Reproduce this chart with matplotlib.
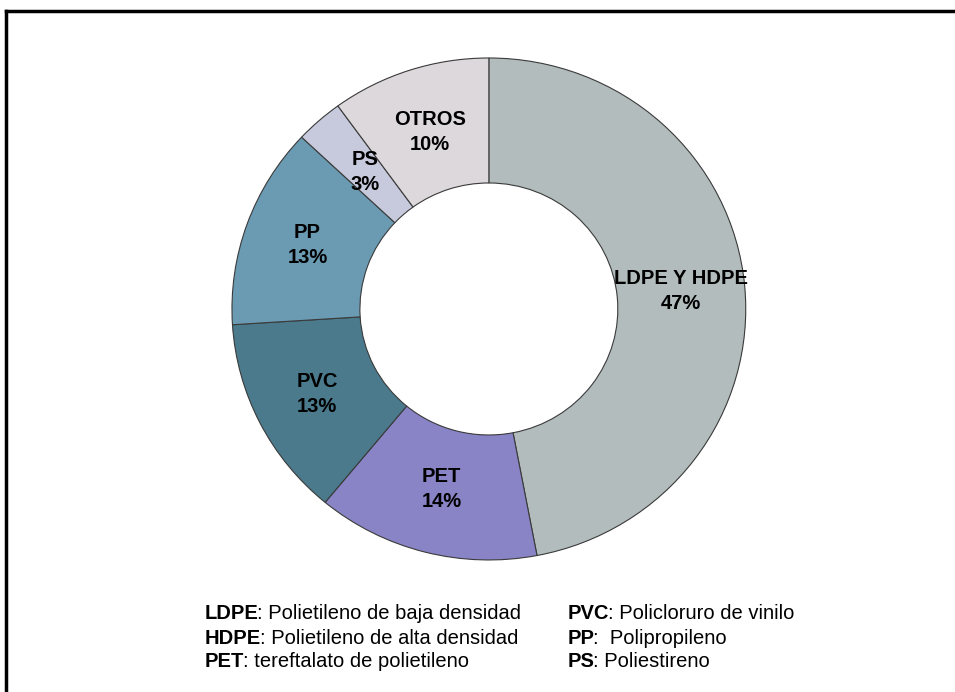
import numpy as np
import matplotlib.pyplot as plt
from matplotlib.lines import Line2D

plt.rcParams['font.family'] = ['Liberation Sans', 'DejaVu Sans']

labels = ['LDPE Y HDPE', 'PET', 'PVC', 'PP', 'PS', 'OTROS']
values = [47, 14, 13, 13, 3, 10]
colors = ['#b2bcbc', '#8884c6', '#4a7a8c', '#6a9bb3', '#c6cadc', '#ddd8dc']
label_r = [0.75, 0.74, 0.75, 0.75, 0.73, 0.74]

abbr_left = ['LDPE', 'HDPE', 'PET']
desc_left = [': Polietileno de baja densidad', ': Polietileno de alta densidad',
             ': tereftalato de polietileno']
abbr_right = ['PVC', 'PP', 'PS']
desc_right = [': Policloruro de vinilo', ':  Polipropileno', ': Poliestireno']

fs = 14.5

fig = plt.figure(figsize=(9.55, 6.92), dpi=100)
ax = fig.add_axes([0.2429, 0.1908, 0.538, 0.7254])

wedges, _ = ax.pie(values, colors=colors, startangle=90, counterclock=False,
                   radius=1.0,
                   wedgeprops=dict(width=0.498, edgecolor='#3a3a3a', linewidth=0.8))
ax.set_xlim(-1, 1)
ax.set_ylim(-1, 1)
ax.set_aspect('auto')
ax.axis('off')

for w, lab, v, r in zip(wedges, labels, values, label_r):
    ang = np.deg2rad((w.theta1 + w.theta2) / 2)
    ax.text(r * np.cos(ang), r * np.sin(ang), f'{lab}\n{v}%', ha='center', va='center',
            fontsize=fs, fontweight='bold', linespacing=1.4)

# legend text block: bold abbreviation, then plain description on same baseline
renderer = fig.canvas.get_renderer()
fig_w = fig.bbox.width
rows_y = [0.105, 0.070, 0.036]
for col_x, abbrs, descs in [(0.214, abbr_left, desc_left), (0.594, abbr_right, desc_right)]:
    for y, a, d in zip(rows_y, abbrs, descs):
        t = fig.text(col_x, y, a, fontsize=fs, fontweight='bold', va='baseline')
        w = t.get_window_extent(renderer).width
        fig.text(col_x + (w - 1) / fig_w, y, d, fontsize=fs, va='baseline')

# frame lines (top and left)
fig.add_artist(Line2D([0.0065, 1.0], [0.984, 0.984], transform=fig.transFigure,
                      color='black', linewidth=2.5))
fig.add_artist(Line2D([0.0065, 0.0065], [0.0, 0.984], transform=fig.transFigure,
                      color='black', linewidth=2.5))

fig.savefig('out.png', dpi=100)
